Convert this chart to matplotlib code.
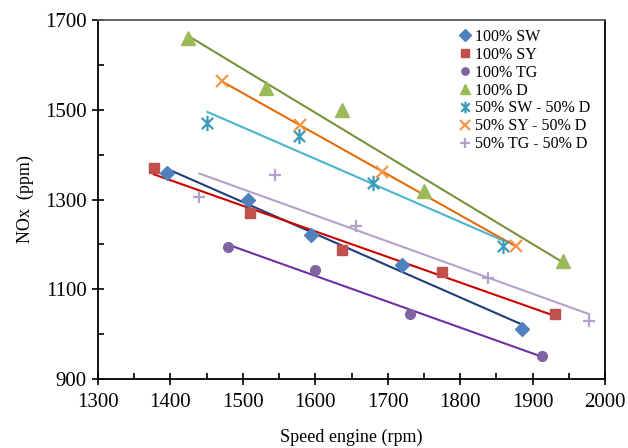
import numpy as np
import matplotlib
matplotlib.use("Agg")
import matplotlib.pyplot as plt
from matplotlib.path import Path
from matplotlib.ticker import MultipleLocator, FixedLocator

plt.rcParams['font.family'] = ['Liberation Serif', 'DejaVu Serif']

labels = ["100% SW", "100% SY", "100% TG", "100% D",
          "50% SW - 50% D", "50% SY - 50% D", "50% TG - 50% D"]

sw_x = [1395, 1507, 1594, 1720, 1886]
sw_y = [1360, 1300, 1220, 1153, 1012]
sy_x = [1377, 1510, 1637, 1775, 1931]
sy_y = [1371, 1271, 1188, 1139, 1045]
tg_x = [1480, 1600, 1731, 1913]
tg_y = [1194, 1143, 1044, 952]
d_x = [1424, 1532, 1637, 1750, 1942]
d_y = [1660, 1548, 1500, 1318, 1163]
swd_x = [1451, 1578, 1679, 1859]
swd_y = [1470, 1442, 1336, 1197]
syd_x = [1471, 1579, 1692, 1877]
syd_y = [1564, 1465, 1362, 1196]
tgd_x = [1440, 1544, 1656, 1838, 1978]
tgd_y = [1306, 1355, 1241, 1126, 1030]

y_ticks = [900, 1100, 1300, 1500, 1700]

xs = [sw_x, sy_x, tg_x, d_x, swd_x, syd_x, tgd_x]
ys = [sw_y, sy_y, tg_y, d_y, swd_y, syd_y, tgd_y]

# Excel-style star marker: X plus vertical bar
star = Path([(-1, -1), (1, 1), (-1, 1), (1, -1), (0, -1.35), (0, 1.35)],
            [Path.MOVETO, Path.LINETO, Path.MOVETO, Path.LINETO, Path.MOVETO, Path.LINETO])

markers = ['D', 's', 'o', '^', star, 'x', '+']
msizes = [7.5, 7, 7, 9.5, 11, 9, 9]
mcolors = ['#4F81BD', '#C0504D', '#8064A2', '#9BBB59', '#3A9CB8', '#F79646', '#B3A2C7']
lcolors = ['#1F3F78', '#CC0000', '#7030A0', '#77933C', '#4BB5D0', '#E46C0A', '#B3A2C7']

fig = plt.figure(figsize=(6.28, 4.48), dpi=100)
ax = fig.add_axes([98/628, 1-379/448, (605-98)/628, (379-20)/448])

for i in range(7):
    x = np.array(xs[i], dtype=float)
    y = np.array(ys[i], dtype=float)
    k, b = np.polyfit(x, y, 1)
    xl = np.array([x.min(), x.max()])
    ax.plot(xl, k*xl + b, color=lcolors[i], lw=1.5, zorder=2)
    filled = markers[i] in ('D', 's', 'o', '^')
    if filled:
        ax.plot(x, y, linestyle='none', marker=markers[i], ms=msizes[i],
                color=mcolors[i], mec=mcolors[i], label=labels[i], zorder=3)
    else:
        ax.plot(x, y, linestyle='none', marker=markers[i], ms=msizes[i],
                color=mcolors[i], mew=1.6, label=labels[i], zorder=3)

ax.set_xlim(1300, 2000)
ax.set_ylim(900, 1700)
ax.xaxis.set_major_locator(MultipleLocator(100))
ax.xaxis.set_minor_locator(MultipleLocator(50))
ax.yaxis.set_major_locator(FixedLocator(y_ticks))
ax.yaxis.set_minor_locator(FixedLocator([t + 100 for t in y_ticks[:-1]]))
ax.tick_params(which='major', direction='inout', length=8, width=1.2, labelsize=15, pad=4)
ax.tick_params(which='minor', direction='in', length=4, width=1.2)
ax.tick_params(axis='x', pad=6)

for s in ['left', 'bottom', 'right']:
    ax.spines[s].set_color('black')
    ax.spines[s].set_linewidth(1.3)
ax.spines['top'].set_color('#595959')
ax.spines['top'].set_linewidth(1.3)

ax.set_xlabel('Speed engine (rpm)', fontsize=13, labelpad=12)
ax.set_ylabel('NOx  (ppm)', fontsize=13, labelpad=8)

leg = ax.legend(loc='upper left', bbox_to_anchor=(0.698, 1.0), frameon=False,
                fontsize=11.5, handlelength=0.6, handletextpad=0.3,
                labelspacing=0.12, borderaxespad=0.15, markerscale=0.75)

fig.savefig('out.png', dpi=100)
